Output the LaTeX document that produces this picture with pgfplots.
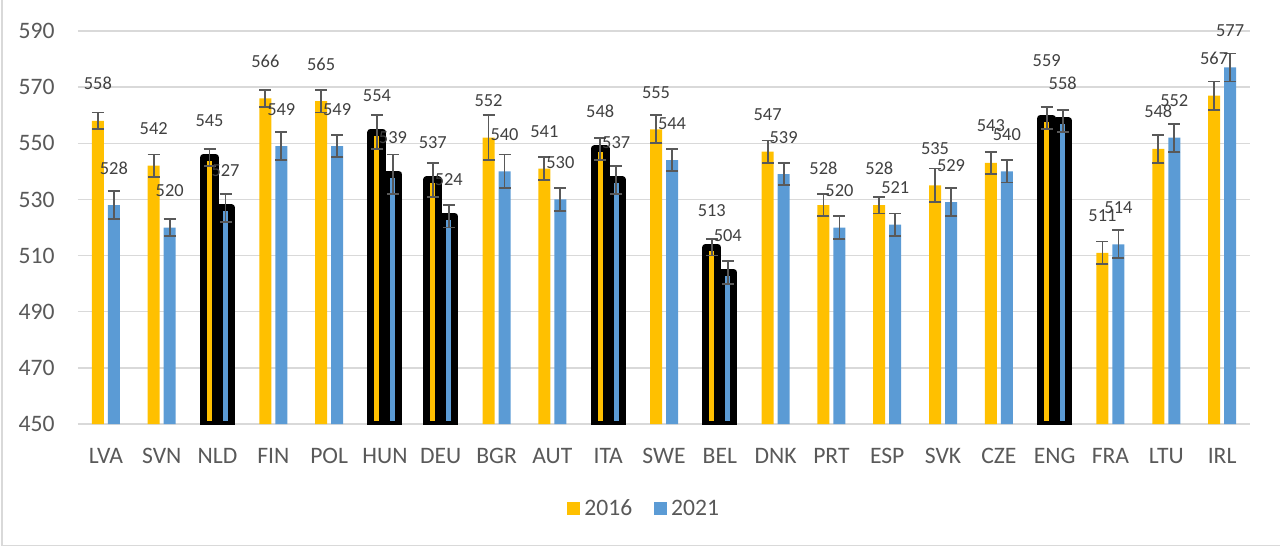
\documentclass[border=0pt]{standalone}
\usepackage{fontspec}
\setmainfont{Carlito}
\usepackage{pgfplots}
\usepackage{pgfplotstable}
\pgfplotsset{compat=1.18}

\definecolor{gold}{HTML}{FFC000}
\definecolor{steel}{HTML}{5B9BD5}
\definecolor{gridc}{HTML}{D9D9D9}
\definecolor{tickc}{HTML}{595959}
\definecolor{labc}{HTML}{404040}
\definecolor{errc}{HTML}{595959}

% x, score, error, label offset (pt)
\pgfplotstableread{
x y e o
0 558 3 15.5
1 542 4 15.5
2 545 3 15.5
3 566 3 15.5
4 565 4 15.5
5 554 6 15.5
6 537 6 15.5
7 552 8 15.5
8 541 4 15.5
9 548 4 15.5
10 555 5 15.5
11 513 3 15.5
12 547 4 15.5
13 528 4 15.5
14 528 3 15.5
15 535 6 15.5
16 543 4 15.5
17 559 4 26
18 511 4 15.5
19 548 5 15.5
20 567 5 15.5
}\dataA

\pgfplotstableread{
x y e o
0 528 5 15.5
1 520 3 15.5
2 527 5 15.5
3 549 5 15.5
4 549 4 15.5
5 539 7 15.5
6 524 4 15.5
7 540 6 15.5
8 530 4 15.5
9 537 5 15.5
10 544 4 15.5
11 504 4 15.5
12 539 4 15.5
13 520 4 15.5
14 521 4 15.5
15 529 5 15.5
16 540 4 15.5
17 558 4 15.5
18 514 5 15.5
19 552 5 15.5
20 577 5 15.5
}\dataB

% highlighted countries (black outline)
\pgfplotstableread{
x y
2 545
5 554
6 537
9 548
11 513
17 559
}\hiA
\pgfplotstableread{
x y
2 527
5 539
6 524
9 537
11 504
17 558
}\hiB

\begin{document}
\begin{tikzpicture}
\useasboundingbox (-39pt,-61.5pt) rectangle (601pt,212pt);
\draw[gridc, line width=0.75pt] (-38pt,212pt) -- (-38pt,-60.75pt) -- (601pt,-60.75pt);
\begin{axis}[
  at={(0,0)}, anchor=south west,
  scale only axis,
  width=586pt, height=196.5pt,
  xmin=-0.5, xmax=20.5,
  ymin=450, ymax=590,
  ytick={450,470,...,590},
  xtick={0,...,20},
  xticklabels={LVA,SVN,NLD,FIN,POL,HUN,DEU,BGR,AUT,ITA,SWE,BEL,DNK,PRT,ESP,SVK,CZE,ENG,FRA,LTU,IRL},
  /pgf/number format/assume math mode=true,
  ymajorgrids,
  grid style={draw=gridc, line width=0.75pt},
  axis x line*=bottom, axis y line*=left,
  x axis line style={draw=gridc, line width=0.75pt},
  y axis line style={draw=none},
  tick style={draw=none},
  ticklabel style={font=\fontsize{11.8}{13}\selectfont, text=tickc},
  yticklabel style={anchor=east, inner sep=0pt, xshift=-11.5pt},
  xticklabel style={anchor=north, inner sep=0pt, yshift=-12pt},
  legend style={draw=none, fill=none, at={(axis description cs:0.484,-0.216)}, anchor=center,
    legend columns=2, font=\fontsize{11.8}{13}\selectfont, text=tickc,
    /tikz/every even column/.append style={column sep=9pt}},
  legend cell align=left,
]
% bar fills
\addplot[ybar, bar width=6pt, bar shift=-4pt, draw=none, fill=gold,
  legend image code/.code={\fill[gold] (0pt,-3.25pt) rectangle (6.5pt,3.25pt);}]
  table[x=x, y=y] {\dataA};
\addplot[ybar, bar width=6pt, bar shift=4pt, draw=none, fill=steel,
  legend image code/.code={\fill[steel] (0pt,-3.25pt) rectangle (6.5pt,3.25pt);}]
  table[x=x, y=y] {\dataB};
% black outlines
\addplot[ybar, bar width=6pt, bar shift=-4pt, draw=black, fill=none, line width=3.5pt, line join=round, forget plot]
  table[x=x, y=y] {\hiA};
\addplot[ybar, bar width=6pt, bar shift=4pt, draw=black, fill=none, line width=3.5pt, line join=round, forget plot]
  table[x=x, y=y] {\hiB};
% error bars and labels (x moved by the bar shift: 4pt = 0.1433 units)
\addplot[draw=none, mark=none, forget plot,
  visualization depends on={\thisrow{o} \as \labo},
  nodes near coords,
  every node near coord/.append style={anchor=base, inner sep=0pt, yshift=\labo,
    font=\fontsize{9.2}{11}\selectfont, text=labc},
  error bars/.cd, y dir=both, y explicit,
  error bar style={draw=errc, line width=0.9pt},
  error mark options={draw=errc, line width=0.9pt, mark size=3pt, rotate=90}]
  table[x expr=\thisrow{x}-0.1433, y=y, y error=e] {\dataA};
\addplot[draw=none, mark=none, forget plot,
  visualization depends on={\thisrow{o} \as \labo},
  nodes near coords,
  every node near coord/.append style={anchor=base, inner sep=0pt, yshift=\labo,
    font=\fontsize{9.2}{11}\selectfont, text=labc},
  error bars/.cd, y dir=both, y explicit,
  error bar style={draw=errc, line width=0.9pt},
  error mark options={draw=errc, line width=0.9pt, mark size=3pt, rotate=90}]
  table[x expr=\thisrow{x}+0.1433, y=y, y error=e] {\dataB};
\legend{2016,2021}
\end{axis}
\end{tikzpicture}
\end{document}
